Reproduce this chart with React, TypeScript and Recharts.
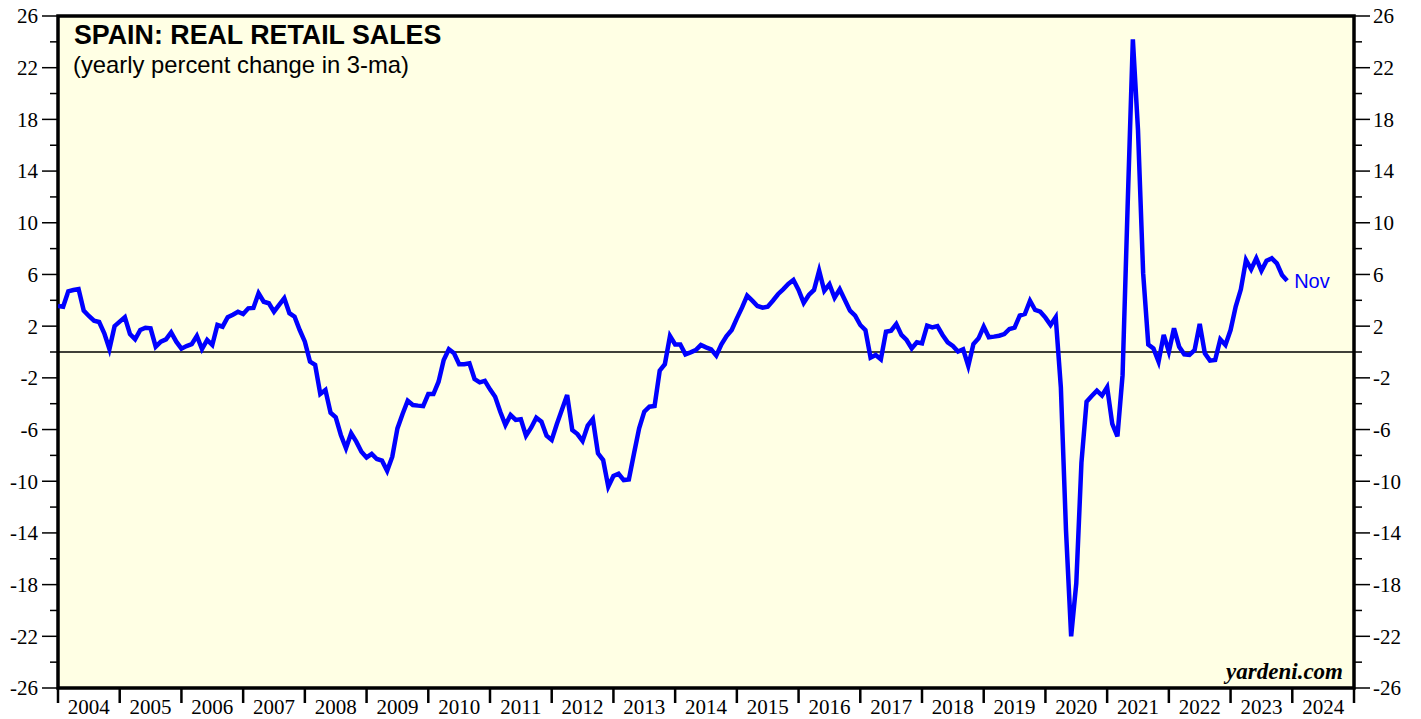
import React from "react";
import {
  LineChart,
  Line,
  XAxis,
  YAxis,
  ReferenceArea,
  ReferenceLine,
  ReferenceDot,
} from "recharts";

// Monthly series, first value = Dec 2003, last value = Nov 2023
const START_YEAR = 2003;
const START_MONTH = 12;

const values: number[] = [
  3.56, 3.5, 4.7, 4.8, 4.87, 3.2, 2.79, 2.42, 2.32, 1.45, 0.23, 2.0,
  2.35, 2.69, 1.39, 0.98, 1.7, 1.88, 1.83, 0.41, 0.8, 0.98, 1.52, 0.8,
  0.26, 0.46, 0.6, 1.24, 0.23, 0.93, 0.54, 2.09, 1.96, 2.69, 2.89, 3.12,
  2.94, 3.38, 3.41, 4.54, 3.89, 3.77, 3.12, 3.64, 4.16, 3.0, 2.73, 1.7,
  0.8, -0.75, -1.0, -3.25, -2.94, -4.7, -5.05, -6.42, -7.45, -6.29, -6.94, -7.72,
  -8.16, -7.89, -8.28, -8.41, -9.19, -8.1, -5.91, -4.8, -3.77, -4.1, -4.15, -4.18,
  -3.25, -3.25, -2.3, -0.62, 0.21, -0.1, -0.95, -0.95, -0.87, -2.09, -2.35, -2.24,
  -2.89, -3.46, -4.62, -5.65, -4.88, -5.26, -5.21, -6.48, -5.86, -5.08, -5.39, -6.48,
  -6.81, -5.57, -4.44, -3.33, -6.04, -6.35, -6.89, -5.7, -5.19, -7.85, -8.36, -10.42,
  -9.6, -9.42, -9.91, -9.86, -7.85, -5.91, -4.62, -4.23, -4.18, -1.44, -0.95, 1.24,
  0.59, 0.59, -0.18, -0.03, 0.15, 0.54, 0.36, 0.21, -0.28, 0.59, 1.24, 1.7,
  2.6, 3.43, 4.36, 3.97, 3.56, 3.43, 3.51, 3.97, 4.47, 4.85, 5.26, 5.57,
  4.8, 3.8, 4.41, 4.8, 6.29, 4.74, 5.24, 4.2, 4.85, 4.02, 3.2, 2.81,
  2.09, 1.7, -0.44, -0.23, -0.57, 1.57, 1.65, 2.17, 1.32, 0.93, 0.28, 0.75,
  0.67, 2.04, 1.91, 2.01, 1.32, 0.75, 0.46, 0.03, 0.21, -1.08, 0.62, 1.06,
  1.96, 1.14, 1.19, 1.26, 1.39, 1.78, 1.88, 2.81, 2.94, 3.97, 3.25, 3.12,
  2.66, 2.09, 2.69, -2.73, -13.8, -22.0, -17.9, -8.58, -3.84, -3.4, -2.99, -3.37,
  -2.73, -5.57, -6.52, -1.79, 11.5, 24.2, 17.17, 6.1, 0.58, 0.28, -0.75, 1.32,
  0.03, 1.83, 0.41, -0.18, -0.23, 0.15, 2.17, -0.1, -0.67, -0.62, 0.98, 0.54,
  1.7, 3.51, 4.85, 7.12, 6.4, 7.25, 6.29, 7.07, 7.25, 6.86, 5.96, 5.52,
];

const months: string[] = values.map((_, i) => {
  const m = START_MONTH - 1 + i;
  const y = START_YEAR + Math.floor(m / 12);
  return `${y}-${String((m % 12) + 1).padStart(2, "0")}`;
});

const yearTicks: number[] = [
  2004, 2005, 2006, 2007, 2008, 2009, 2010, 2011, 2012, 2013, 2014,
  2015, 2016, 2017, 2018, 2019, 2020, 2021, 2022, 2023, 2024, 2025,
];
const yTicks: number[] = [
  26, 24, 22, 20, 18, 16, 14, 12, 10, 8, 6, 4, 2, 0, -2, -4, -6, -8, -10,
  -12, -14, -16, -18, -20, -22, -24, -26,
];

const LAST_LABEL = "Nov";

// plotted at month end
const toYear = (s: string) => {
  const [y, m] = s.split("-").map(Number);
  return y + m / 12;
};

const data = months.map((d, i) => ({ t: toYear(d), v: values[i] }));
const last = data[data.length - 1];

const W = 1421;
const H = 719;
const PLOT_LEFT = 58;
const PLOT_RIGHT = 1354;
const PLOT_TOP = 16;
const PLOT_BOTTOM = 688;
const YEAR_W = (PLOT_RIGHT - PLOT_LEFT) / (yearTicks.length - 1);

const serif = "'Liberation Serif', 'Times New Roman', serif";
const sans = "'Liberation Sans', Arial, Helvetica, sans-serif";
const BG = "#FFFFE4";
const BLUE = "#0000FF";

const isMajor = (v: number) => (((v - 2) % 4) + 4) % 4 === 0;

const LeftTick = (props: any) => {
  const { x, y, payload } = props;
  const v = payload.value as number;
  const major = isMajor(v);
  return (
    <g>
      <line x1={x - (major ? 16 : 8)} x2={x} y1={y} y2={y} stroke="#000" strokeWidth={1.5} />
      {major && (
        <text x={x - 20} y={y} dy="0.35em" textAnchor="end" fontFamily={serif} fontSize={21} fill="#000">
          {v}
        </text>
      )}
    </g>
  );
};

const RightTick = (props: any) => {
  const { x, y, payload } = props;
  const v = payload.value as number;
  const major = isMajor(v);
  return (
    <g>
      <line x1={x} x2={x + (major ? 16 : 8)} y1={y} y2={y} stroke="#000" strokeWidth={1.5} />
      {major && (
        <text x={x + 19} y={y} dy="0.35em" textAnchor="start" fontFamily={serif} fontSize={21} fill="#000">
          {v}
        </text>
      )}
    </g>
  );
};

const BottomTick = (props: any) => {
  const { x, y, payload } = props;
  const v = payload.value as number;
  return (
    <g>
      <line x1={x} x2={x} y1={y} y2={y + 15} stroke="#000" strokeWidth={2.5} />
      {v < 2025 && (
        <text x={x + YEAR_W / 2} y={y + 26} textAnchor="middle" fontFamily={serif} fontSize={21} fill="#000">
          {v}
        </text>
      )}
    </g>
  );
};

export default function App() {
  return (
    <div style={{ position: "absolute", left: 0, top: 0, width: W, height: H, background: "#fff" }}>
      <LineChart
        width={W}
        height={H}
        data={data}
        margin={{ top: PLOT_TOP, right: 0, bottom: 0, left: 0 }}
      >
        <XAxis
          dataKey="t"
          type="number"
          domain={[2004, 2025]}
          ticks={yearTicks}
          interval={0}
          height={H - PLOT_BOTTOM}
          tickSize={0}
          tickMargin={0}
          tickLine={false}
          axisLine={false}
          allowDataOverflow
          tick={<BottomTick />}
        />
        <YAxis
          yAxisId="l"
          domain={[-26, 26]}
          ticks={yTicks}
          interval={0}
          width={PLOT_LEFT}
          tickSize={0}
          tickMargin={0}
          tickLine={false}
          axisLine={false}
          allowDataOverflow
          tick={<LeftTick />}
        />
        <YAxis
          yAxisId="r"
          orientation="right"
          domain={[-26, 26]}
          ticks={yTicks}
          interval={0}
          width={W - PLOT_RIGHT}
          tickSize={0}
          tickMargin={0}
          tickLine={false}
          axisLine={false}
          allowDataOverflow
          tick={<RightTick />}
        />
        <ReferenceArea
          yAxisId="l"
          x1={2004}
          x2={2025}
          y1={-26}
          y2={26}
          fill={BG}
          fillOpacity={1}
          stroke="#000"
          strokeWidth={3.5}
          ifOverflow="visible"
        />
        <ReferenceLine yAxisId="l" y={0} stroke="#000" strokeWidth={1.5} strokeOpacity={1} />
        <Line
          yAxisId="l"
          type="linear"
          dataKey="v"
          stroke={BLUE}
          strokeWidth={4.5}
          dot={false}
          activeDot={false}
          isAnimationActive={false}
        />
        <ReferenceDot
          yAxisId="l"
          x={last.t}
          y={last.v}
          r={0}
          fill="none"
          stroke="none"
          label={{ value: LAST_LABEL, position: "right", offset: 7, fill: BLUE, fontSize: 20, fontFamily: sans }}
        />
      </LineChart>
      <svg
        width={W}
        height={H}
        style={{ position: "absolute", left: 0, top: 0, pointerEvents: "none" }}
      >
        <text x={74} y={44} fontFamily={sans} fontWeight="bold" fontSize={26.8} fill="#000">
          SPAIN: REAL RETAIL SALES
        </text>
        <text x={73} y={73} fontFamily={sans} fontSize={23.8} fill="#000">
          (yearly percent change in 3-ma)
        </text>
        <text
          x={1343}
          y={679}
          textAnchor="end"
          fontFamily={serif}
          fontWeight="bold"
          fontStyle="italic"
          fontSize={23}
          fill="#000"
        >
          yardeni.com
        </text>
      </svg>
    </div>
  );
}
